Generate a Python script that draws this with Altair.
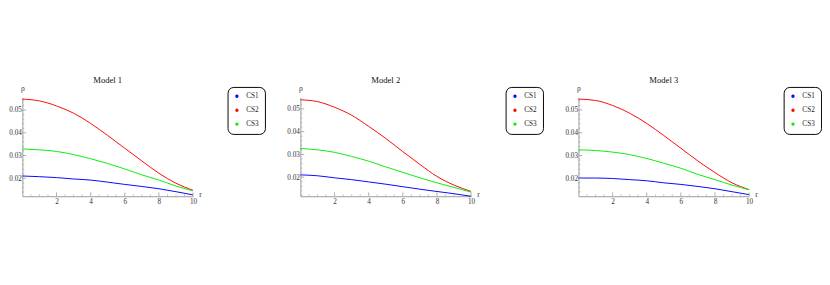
import altair as alt
import pandas as pd

r_vals = [0, 1, 2, 3, 4, 5, 6, 7, 8, 9, 10]
series_names = ["CS1", "CS2", "CS3"]
series_colors = ["#0000ff", "#ff0000", "#00ee00"]
titles = ["Model 1", "Model 2", "Model 3"]

m1_cs1 = [0.0210, 0.0207, 0.0203, 0.0197, 0.0192, 0.0183, 0.0173, 0.0164, 0.0154, 0.0141, 0.0127]
m1_cs2 = [0.0548, 0.0540, 0.0518, 0.0486, 0.0441, 0.0388, 0.0332, 0.0276, 0.0222, 0.0178, 0.0147]
m1_cs3 = [0.0329, 0.0325, 0.0318, 0.0304, 0.0286, 0.0265, 0.0241, 0.0215, 0.0192, 0.0166, 0.0145]

m2_cs1 = [0.0210, 0.0206, 0.0197, 0.0189, 0.0179, 0.0169, 0.0158, 0.0147, 0.0137, 0.0127, 0.0116]
m2_cs2 = [0.0540, 0.0532, 0.0507, 0.0472, 0.0423, 0.0370, 0.0312, 0.0256, 0.0203, 0.0165, 0.0137]
m2_cs3 = [0.0326, 0.0320, 0.0309, 0.0291, 0.0270, 0.0245, 0.0221, 0.0197, 0.0175, 0.0155, 0.0134]

m3_cs1 = [0.0201, 0.0201, 0.0199, 0.0194, 0.0189, 0.0180, 0.0173, 0.0164, 0.0154, 0.0141, 0.0128]
m3_cs2 = [0.0548, 0.0542, 0.0520, 0.0486, 0.0441, 0.0388, 0.0332, 0.0276, 0.0225, 0.0180, 0.0150]
m3_cs3 = [0.0325, 0.0322, 0.0315, 0.0304, 0.0287, 0.0266, 0.0244, 0.0217, 0.0194, 0.0170, 0.0150]

y_domains = [[0.0121, 0.0555], [0.0116, 0.0550], [0.0121, 0.0555]]
x_domain = [0, 10]
x_major = [2, 4, 6, 8, 10]
x_minor = [0.5, 1, 1.5, 2.5, 3, 3.5, 4.5, 5, 5.5, 6.5, 7, 7.5, 8.5, 9, 9.5]
y_major = [0.02, 0.03, 0.04, 0.05]
y_minor = [0.012, 0.014, 0.016, 0.018, 0.022, 0.024, 0.026, 0.028, 0.032, 0.034,
           0.036, 0.038, 0.042, 0.044, 0.046, 0.048, 0.052, 0.054]

models = [[m1_cs1, m1_cs2, m1_cs3], [m2_cs1, m2_cs2, m2_cs3], [m3_cs1, m3_cs2, m3_cs3]]

W, H = 178, 103
FONT = "Liberation Serif"
AX = "#999999"

x_axis = alt.Axis(
    values=x_major, tickSize=0, labelPadding=2, labelFontSize=7.5, labelFont=FONT,
    labelColor="#333333", domainColor=AX, grid=False, labelFlush=False,
    title="r", titleFont=FONT, titleFontSize=8, titleFontWeight="normal",
    titleColor="#333333", titleX=W + 6, titleY=-2, titleAlign="left",
    titleBaseline="middle", titleAngle=0)
y_axis = alt.Axis(
    values=y_major, format=".2f", tickSize=0, labelPadding=1, labelFontSize=7.5,
    labelFont=FONT, labelColor="#333333", domainColor=AX, grid=False, labelFlush=False,
    title="ρ", titleFont=FONT, titleFontSize=8, titleFontWeight="normal",
    titleColor="#333333", titleX=0, titleY=-5, titleAlign="center",
    titleBaseline="bottom", titleAngle=0)


def panel(idx):
    rows = []
    for name, vals in zip(series_names, models[idx]):
        for r, v in zip(r_vals, vals):
            rows.append({"r": r, "rho": v, "series": name})
    df = pd.DataFrame(rows)
    xs = alt.Scale(domain=x_domain, nice=False, zero=False)
    ys = alt.Scale(domain=y_domains[idx], nice=False, zero=False)

    lines = alt.Chart(df).mark_line(strokeWidth=1, interpolate="monotone").encode(
        x=alt.X("r:Q", scale=xs, axis=x_axis),
        y=alt.Y("rho:Q", scale=ys, axis=y_axis),
        color=alt.Color("series:N", scale=alt.Scale(domain=series_names, range=series_colors),
                        legend=alt.Legend(title=None, orient="none", legendX=W + 36,
                                          legendY=-11, symbolType="circle", symbolSize=4,
                                          symbolStrokeWidth=1.5, labelFont=FONT,
                                          labelFontSize=7.5, labelColor="#222222",
                                          labelOffset=6, rowPadding=5.5, padding=6,
                                          strokeColor="black", cornerRadius=6,
                                          fillColor="white")),
    )

    xmaj = alt.Chart(pd.DataFrame({"r": x_major})).mark_rule(color=AX, strokeWidth=0.8).encode(
        x=alt.X("r:Q", scale=xs, axis=x_axis), y=alt.value(H), y2=alt.value(H - 4))
    xmin = alt.Chart(pd.DataFrame({"r": x_minor})).mark_rule(color=AX, strokeWidth=0.6).encode(
        x=alt.X("r:Q", scale=xs, axis=x_axis), y=alt.value(H), y2=alt.value(H - 2))
    ymaj = alt.Chart(pd.DataFrame({"rho": y_major})).mark_rule(color=AX, strokeWidth=0.8).encode(
        y=alt.Y("rho:Q", scale=ys, axis=y_axis), x=alt.value(0), x2=alt.value(4))
    ymin_vals = [v for v in y_minor if y_domains[idx][0] <= v <= y_domains[idx][1]]
    ymin = alt.Chart(pd.DataFrame({"rho": ymin_vals})).mark_rule(
        color=AX, strokeWidth=0.6).encode(
        y=alt.Y("rho:Q", scale=ys, axis=y_axis), x=alt.value(0), x2=alt.value(2))

    return alt.layer(lines, xmaj, xmin, ymaj, ymin).properties(
        width=W, height=H,
        title=alt.TitleParams(titles[idx], font=FONT, fontSize=9, fontWeight="normal",
                              color="#111111", anchor="middle", offset=0),
    )


chart = alt.hconcat(panel(0), panel(1), panel(2), spacing=21).resolve_scale(
    color="independent", x="independent", y="independent"
).resolve_legend(color="independent").properties(
    padding={"left": 0, "top": 67, "right": 0, "bottom": 0}
).configure(background="white").configure_view(stroke=None)

chart.save("out.html", embed_options={"renderer": "svg", "actions": False})
